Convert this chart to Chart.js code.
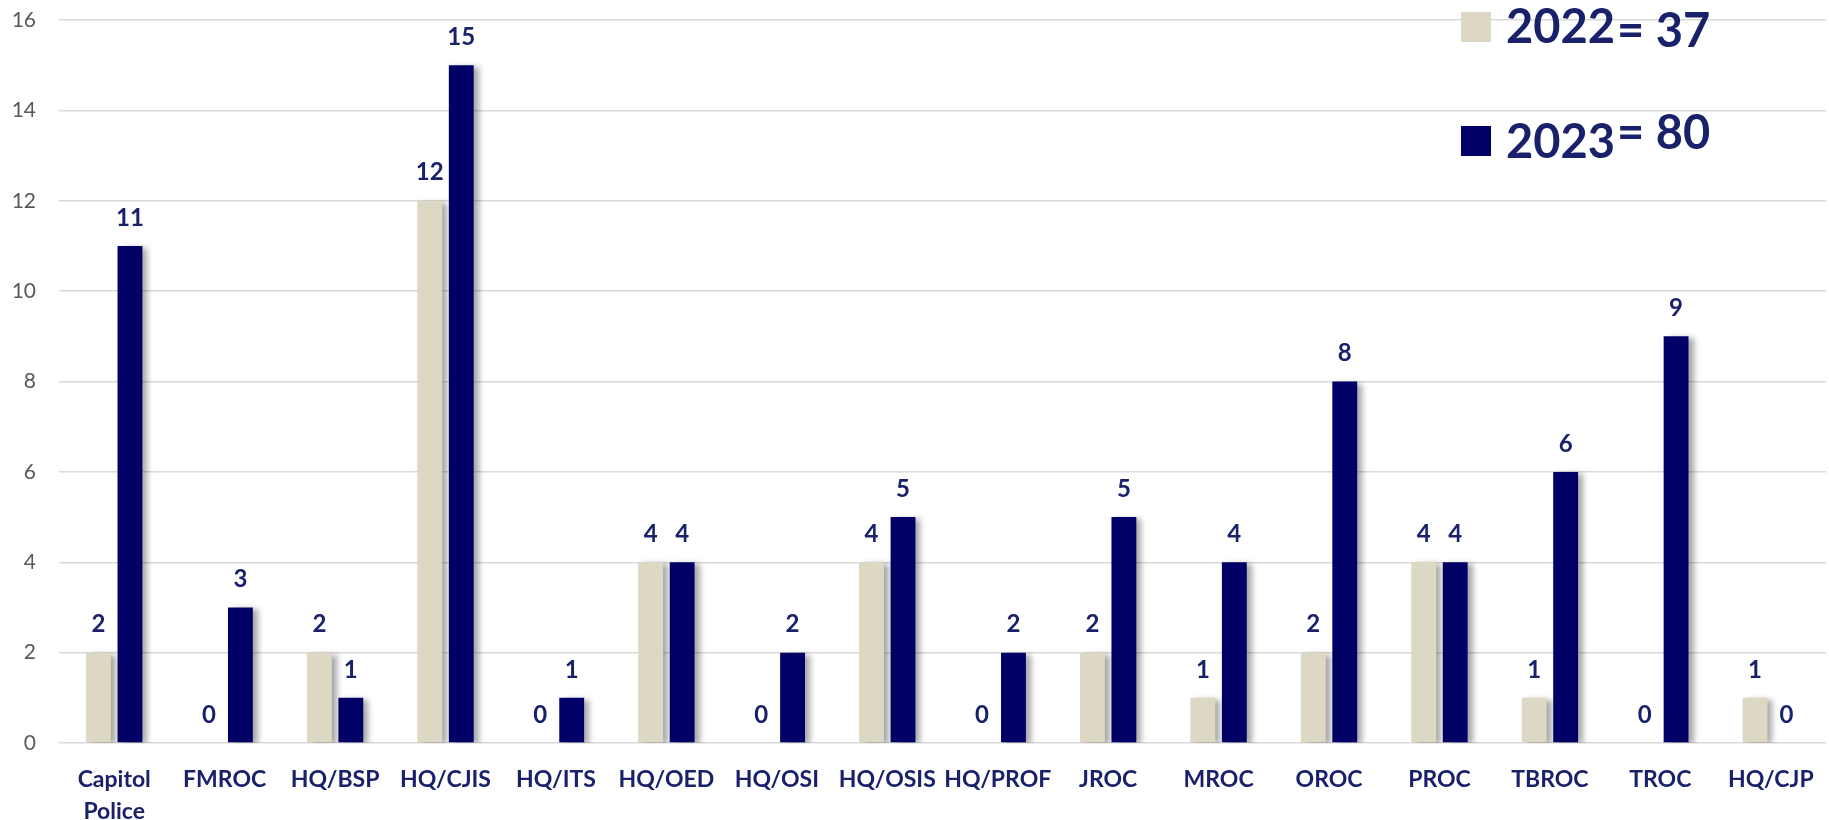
<!DOCTYPE html>
<html>
<head>
<meta charset="utf-8">
<script src="https://cdn.jsdelivr.net/npm/chart.js@4.4.0/dist/chart.umd.min.js"></script>
<style>
  html, body { margin: 0; padding: 0; background: #fff; }
  #wrap { width: 1829px; height: 820px; }
</style>
</head>
<body>
<div id="wrap"><canvas id="chart" width="1829" height="820"></canvas></div>
<script>
const categories = [['Capitol', 'Police'], 'FMROC', 'HQ/BSP', 'HQ/CJIS', 'HQ/ITS', 'HQ/OED', 'HQ/OSI', 'HQ/OSIS',
  'HQ/PROF', 'JROC', 'MROC', 'OROC', 'PROC', 'TBROC', 'TROC', 'HQ/CJP'];
const values2022 = [2, 0, 2, 12, 0, 4, 0, 4, 0, 2, 1, 2, 4, 1, 0, 1];
const values2023 = [11, 3, 1, 15, 1, 4, 2, 5, 2, 5, 4, 8, 4, 6, 9, 0];
const seriesNames = ['2022', '2023'];
const seriesTotals = ['= 37', '= 80'];

const BEIGE = '#ddd8c4';
const NAVY = '#000066';
const TEXT_NAVY = '#19216a';
const FONT = 'Lato, "Open Sans", sans-serif';

// soft drop shadow behind the bars
const barShadow = {
  id: 'barShadow',
  beforeDatasetsDraw(chart) {
    const ctx = chart.ctx;
    ctx.save();
    ctx.shadowColor = 'rgba(0,0,0,0.35)';
    ctx.shadowBlur = 6;
    ctx.shadowOffsetX = 5;
    ctx.shadowOffsetY = 2;
  },
  afterDatasetsDraw(chart) {
    chart.ctx.restore();
  }
};

// value above each bar
const valueLabels = {
  id: 'valueLabels',
  afterDatasetsDraw(chart) {
    const ctx = chart.ctx;
    ctx.save();
    ctx.font = 'bold 24px ' + FONT;
    ctx.fillStyle = TEXT_NAVY;
    ctx.textAlign = 'center';
    ctx.textBaseline = 'middle';
    chart.data.datasets.forEach((ds, i) => {
      chart.getDatasetMeta(i).data.forEach((bar, j) => {
        ctx.fillText(String(ds.data[j]), bar.x, bar.y - 28);
      });
    });
    ctx.restore();
  }
};

// totals legend in the top right corner
const totalsLegend = {
  id: 'totalsLegend',
  afterDraw(chart) {
    const ctx = chart.ctx;
    const colors = [BEIGE, NAVY];
    const rows = [
      { boxY: 12, yearBase: 43, totalBase: 47 },
      { boxY: 126, yearBase: 158, totalBase: 149 }
    ];
    ctx.save();
    ctx.font = 'bold 47px ' + FONT;
    ctx.textAlign = 'left';
    ctx.textBaseline = 'alphabetic';
    seriesNames.forEach((name, i) => {
      const r = rows[i];
      ctx.fillStyle = colors[i];
      ctx.fillRect(1461, r.boxY, 30, 30);
      ctx.fillStyle = TEXT_NAVY;
      ctx.fillText(name, 1506, r.yearBase);
      const w = ctx.measureText(name).width;
      ctx.fillText(seriesTotals[i], 1506 + w + 2, r.totalBase);
    });
    ctx.restore();
  }
};

new Chart(document.getElementById('chart'), {
  type: 'bar',
  data: {
    labels: categories,
    datasets: [
      { label: seriesNames[0], data: values2022, backgroundColor: BEIGE },
      { label: seriesNames[1], data: values2023, backgroundColor: NAVY }
    ]
  },
  options: {
    responsive: false,
    animation: false,
    devicePixelRatio: 1,
    categoryPercentage: 0.57,
    barPercentage: 0.79,
    layout: { padding: { top: 20, right: 3, left: 0, bottom: 0 } },
    plugins: {
      legend: { display: false },
      tooltip: { enabled: false }
    },
    scales: {
      x: {
        grid: { display: false },
        border: { display: false },
        ticks: {
          color: TEXT_NAVY,
          font: { family: FONT, size: 23, weight: 'bold', lineHeight: 1.39 },
          padding: 13,
          maxRotation: 0,
          autoSkip: false
        },
        afterFit(scale) { scale.height = 77; }
      },
      y: {
        min: 0,
        max: 16,
        border: { display: false },
        grid: { color: '#d9d9d9', lineWidth: 1.5, drawTicks: false },
        ticks: {
          stepSize: 2,
          color: '#595959',
          font: { family: FONT, size: 21 },
          padding: 23
        },
        afterFit(scale) {
          scale.width = 59;
          scale.paddingTop = 0;
          scale.paddingBottom = 0;
        }
      }
    }
  },
  plugins: [barShadow, valueLabels, totalsLegend]
});
</script>
</body>
</html>
